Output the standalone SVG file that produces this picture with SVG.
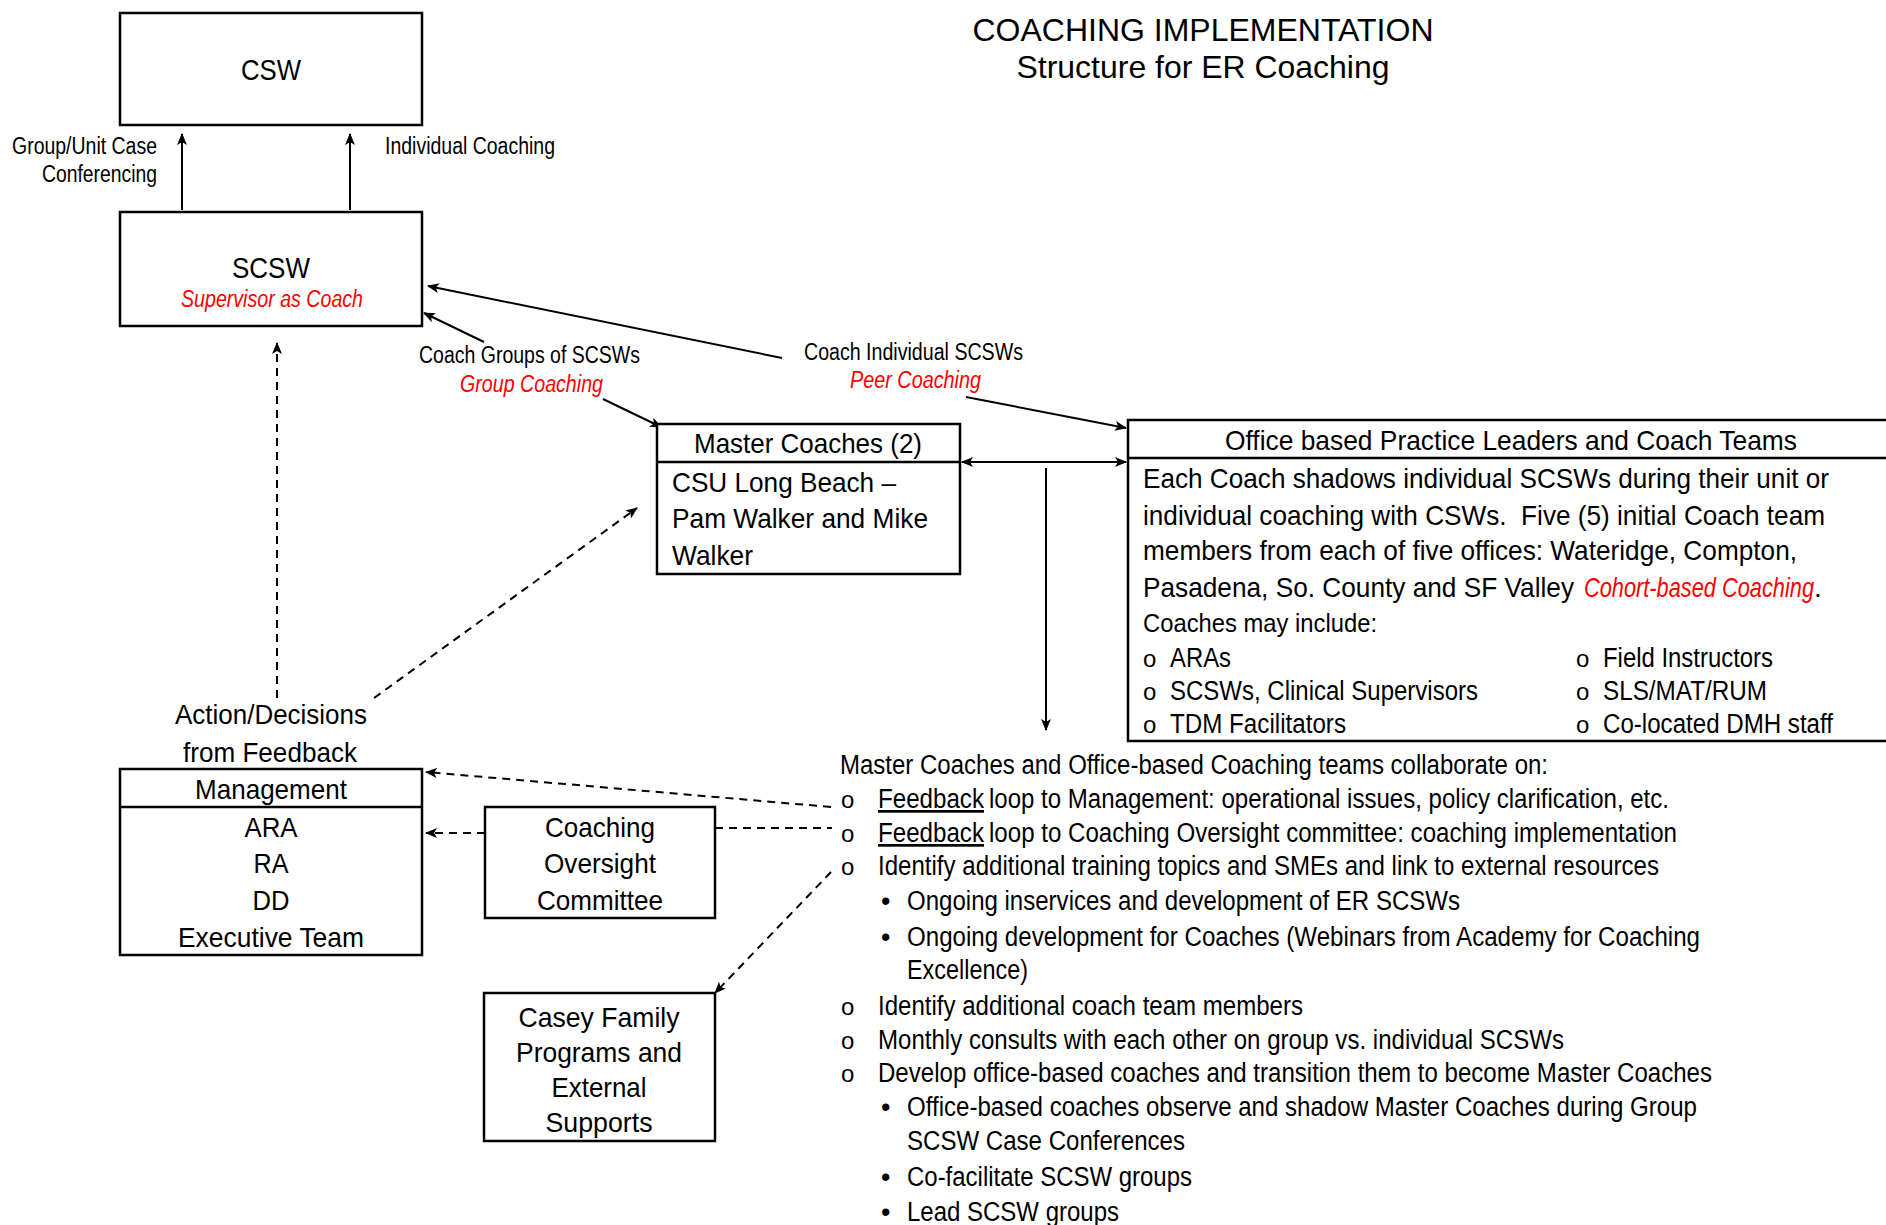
<svg xmlns="http://www.w3.org/2000/svg" width="1886" height="1225" viewBox="0 0 1886 1225">
<defs>
<style>
.bx{fill:#fff;stroke:#000;stroke-width:2.5}
.sep{stroke:#000;stroke-width:2.5}
.t{font-family:"Liberation Sans Narrow","Arial Narrow","Liberation Sans",Arial,sans-serif;fill:#000;font-size:28px}
.s{font-size:23px}
.r{fill:#f00;font-style:italic}
.c{text-anchor:middle}
.ttl{font-family:"Liberation Sans",Arial,sans-serif;font-size:31.5px;fill:#000;text-anchor:middle}
.ln{stroke:#000;stroke-width:2;fill:none}
.ds{stroke:#000;stroke-width:2;fill:none;stroke-dasharray:8 6}
.u{text-decoration:underline}
</style>
<marker id="ah" viewBox="0 0 12 10" refX="11" refY="5" markerWidth="12" markerHeight="10" markerUnits="userSpaceOnUse" orient="auto-start-reverse"><path d="M0,0 L12,5 L0,10 L3,5 z" fill="#000"/></marker>
</defs>
<rect width="1886" height="1225" fill="#fff"/>

<g id="title">
<text class="ttl" x="1203" y="41" textLength="461" lengthAdjust="spacingAndGlyphs">COACHING IMPLEMENTATION</text>
<text class="ttl" x="1203" y="78" textLength="373" lengthAdjust="spacingAndGlyphs">Structure for ER Coaching</text>
</g>

<g id="connectors">
<line class="ln" x1="182" y1="210" x2="182" y2="134" marker-end="url(#ah)"/>
<line class="ln" x1="350" y1="210" x2="350" y2="134" marker-end="url(#ah)"/>
<line class="ln" x1="782" y1="358" x2="428" y2="286" marker-end="url(#ah)"/>
<line class="ln" x1="484" y1="342" x2="424" y2="313" marker-end="url(#ah)"/>
<line class="ln" x1="603" y1="399" x2="661" y2="427" marker-end="url(#ah)"/>
<line class="ln" x1="966" y1="397" x2="1126" y2="428" marker-end="url(#ah)"/>
<line class="ln" x1="962" y1="462" x2="1126" y2="462" marker-start="url(#ah)" marker-end="url(#ah)"/>
<line class="ln" x1="1046" y1="468" x2="1046" y2="730" marker-end="url(#ah)"/>
<line class="ds" x1="277" y1="698" x2="277" y2="343" marker-end="url(#ah)"/>
<line class="ds" x1="374" y1="698" x2="637" y2="508" marker-end="url(#ah)"/>
<line class="ds" x1="831" y1="807" x2="426" y2="772" marker-end="url(#ah)"/>
<line class="ds" x1="485" y1="833" x2="426" y2="833" marker-end="url(#ah)"/>
<line class="ds" x1="715" y1="828" x2="832" y2="828"/>
<line class="ds" x1="831" y1="872" x2="715" y2="993" marker-end="url(#ah)"/>
</g>

<g id="connector-labels">
<text class="t s" x="157" y="154" text-anchor="end" textLength="145" lengthAdjust="spacingAndGlyphs">Group/Unit Case</text>
<text class="t s" x="157" y="182" text-anchor="end" textLength="115" lengthAdjust="spacingAndGlyphs">Conferencing</text>
<text class="t s" x="385" y="154" textLength="170" lengthAdjust="spacingAndGlyphs">Individual Coaching</text>
<text class="t s" x="419" y="363" textLength="221" lengthAdjust="spacingAndGlyphs">Coach Groups of SCSWs</text>
<text class="t s r" x="460" y="392" textLength="143" lengthAdjust="spacingAndGlyphs">Group Coaching</text>
<text class="t s" x="804" y="360" textLength="219" lengthAdjust="spacingAndGlyphs">Coach Individual SCSWs</text>
<text class="t s r" x="850" y="388" textLength="131" lengthAdjust="spacingAndGlyphs">Peer Coaching</text>
<text class="t" x="175" y="724" textLength="192" lengthAdjust="spacingAndGlyphs">Action/Decisions</text>
<text class="t" x="183" y="762" textLength="174" lengthAdjust="spacingAndGlyphs">from Feedback</text>
</g>

<g id="csw">
<rect class="bx" x="120" y="13" width="302" height="112"/>
<text class="t c" x="271" y="80" textLength="60" lengthAdjust="spacingAndGlyphs" style="font-size:30px">CSW</text>
</g>

<g id="scsw">
<rect class="bx" x="120" y="212" width="302" height="114"/>
<text class="t c" x="271" y="278" textLength="78" lengthAdjust="spacingAndGlyphs" style="font-size:30px">SCSW</text>
<text class="t s r" x="181" y="307" textLength="182" lengthAdjust="spacingAndGlyphs">Supervisor as Coach</text>
</g>

<g id="master-coaches">
<rect class="bx" x="657" y="424" width="303" height="150"/>
<line class="sep" x1="657" y1="462" x2="960" y2="462"/>
<text class="t" x="694" y="453" textLength="228" lengthAdjust="spacingAndGlyphs">Master Coaches (2)</text>
<text class="t" x="672" y="492" textLength="224" lengthAdjust="spacingAndGlyphs">CSU Long Beach –</text>
<text class="t" x="672" y="528" textLength="256" lengthAdjust="spacingAndGlyphs">Pam Walker and Mike</text>
<text class="t" x="672" y="565" textLength="81" lengthAdjust="spacingAndGlyphs">Walker</text>
</g>

<g id="office-teams">
<rect class="bx" x="1128" y="420" width="780" height="321"/>
<line class="sep" x1="1128" y1="458" x2="1908" y2="458"/>
<text class="t" x="1225" y="450" textLength="572" lengthAdjust="spacingAndGlyphs">Office based Practice Leaders and Coach Teams</text>
<text class="t" x="1143" y="488" textLength="686" lengthAdjust="spacingAndGlyphs">Each Coach shadows individual SCSWs during their unit or</text>
<text class="t" x="1143" y="525" textLength="682" lengthAdjust="spacingAndGlyphs" xml:space="preserve">individual coaching with CSWs.  Five (5) initial Coach team</text>
<text class="t" x="1143" y="560" textLength="654" lengthAdjust="spacingAndGlyphs">members from each of five offices: Wateridge, Compton,</text>
<text class="t" x="1143" y="597" textLength="431" lengthAdjust="spacingAndGlyphs">Pasadena, So. County and SF Valley</text>
<text class="t r" x="1584" y="597" textLength="230" lengthAdjust="spacingAndGlyphs">Cohort-based Coaching</text>
<text class="t" x="1814" y="597">.</text>
<text class="t" x="1143" y="632" textLength="234" lengthAdjust="spacingAndGlyphs" style="font-size:26px">Coaches may include:</text>
<text class="t" x="1143" y="667" style="font-size:24px">o</text>
<text class="t" x="1170" y="667" textLength="61" lengthAdjust="spacingAndGlyphs" style="font-size:27px">ARAs</text>
<text class="t" x="1143" y="700" style="font-size:24px">o</text>
<text class="t" x="1170" y="700" textLength="308" lengthAdjust="spacingAndGlyphs" style="font-size:27px">SCSWs, Clinical Supervisors</text>
<text class="t" x="1143" y="733" style="font-size:24px">o</text>
<text class="t" x="1170" y="733" textLength="176" lengthAdjust="spacingAndGlyphs" style="font-size:27px">TDM Facilitators</text>
<text class="t" x="1576" y="667" style="font-size:24px">o</text>
<text class="t" x="1603" y="667" textLength="170" lengthAdjust="spacingAndGlyphs" style="font-size:27px">Field Instructors</text>
<text class="t" x="1576" y="700" style="font-size:24px">o</text>
<text class="t" x="1603" y="700" textLength="164" lengthAdjust="spacingAndGlyphs" style="font-size:27px">SLS/MAT/RUM</text>
<text class="t" x="1576" y="733" style="font-size:24px">o</text>
<text class="t" x="1603" y="733" textLength="230" lengthAdjust="spacingAndGlyphs" style="font-size:27px">Co-located DMH staff</text>
</g>

<g id="management">
<rect class="bx" x="120" y="769" width="302" height="186"/>
<line class="sep" x1="120" y1="807" x2="422" y2="807"/>
<text class="t c" x="271" y="799" textLength="152" lengthAdjust="spacingAndGlyphs">Management</text>
<text class="t c" x="271" y="837" textLength="53" lengthAdjust="spacingAndGlyphs">ARA</text>
<text class="t c" x="271" y="873" textLength="35" lengthAdjust="spacingAndGlyphs">RA</text>
<text class="t c" x="271" y="910" textLength="37" lengthAdjust="spacingAndGlyphs">DD</text>
<text class="t c" x="271" y="947" textLength="186" lengthAdjust="spacingAndGlyphs">Executive Team</text>
</g>

<g id="coaching-oversight">
<rect class="bx" x="485" y="807" width="230" height="111"/>
<text class="t c" x="600" y="837" textLength="110" lengthAdjust="spacingAndGlyphs">Coaching</text>
<text class="t c" x="600" y="873" textLength="112" lengthAdjust="spacingAndGlyphs">Oversight</text>
<text class="t c" x="600" y="910" textLength="126" lengthAdjust="spacingAndGlyphs">Committee</text>
</g>

<g id="casey">
<rect class="bx" x="484" y="993" width="231" height="148"/>
<text class="t c" x="599" y="1027" textLength="161" lengthAdjust="spacingAndGlyphs">Casey Family</text>
<text class="t c" x="599" y="1062" textLength="166" lengthAdjust="spacingAndGlyphs">Programs and</text>
<text class="t c" x="599" y="1097" textLength="95" lengthAdjust="spacingAndGlyphs">External</text>
<text class="t c" x="599" y="1132" textLength="107" lengthAdjust="spacingAndGlyphs">Supports</text>
</g>

<g id="collaboration">
<text class="t" x="840" y="774" textLength="708" lengthAdjust="spacingAndGlyphs" style="font-size:27px">Master Coaches and Office-based Coaching teams collaborate on:</text>
<text class="t" x="841" y="808" style="font-size:24px">o</text>
<text class="t u" x="878" y="808" textLength="106" lengthAdjust="spacingAndGlyphs" style="font-size:27px">Feedback</text>
<text class="t" x="989" y="808" textLength="680" lengthAdjust="spacingAndGlyphs" style="font-size:27px">loop to Management: operational issues, policy clarification, etc.</text>
<text class="t" x="841" y="842" style="font-size:24px">o</text>
<text class="t u" x="878" y="842" textLength="106" lengthAdjust="spacingAndGlyphs" style="font-size:27px">Feedback</text>
<text class="t" x="989" y="842" textLength="688" lengthAdjust="spacingAndGlyphs" style="font-size:27px">loop to Coaching Oversight committee: coaching implementation</text>
<text class="t" x="841" y="875" style="font-size:24px">o</text>
<text class="t" x="878" y="875" textLength="781" lengthAdjust="spacingAndGlyphs" style="font-size:27px">Identify additional training topics and SMEs and link to external resources</text>
<text class="t" x="881" y="910" style="font-size:27px">•</text>
<text class="t" x="907" y="910" textLength="553" lengthAdjust="spacingAndGlyphs" style="font-size:27px">Ongoing inservices and development of ER SCSWs</text>
<text class="t" x="881" y="946" style="font-size:27px">•</text>
<text class="t" x="907" y="946" textLength="793" lengthAdjust="spacingAndGlyphs" style="font-size:27px">Ongoing development for Coaches (Webinars from Academy for Coaching</text>
<text class="t" x="907" y="979" textLength="121" lengthAdjust="spacingAndGlyphs" style="font-size:27px">Excellence)</text>
<text class="t" x="841" y="1015" style="font-size:24px">o</text>
<text class="t" x="878" y="1015" textLength="425" lengthAdjust="spacingAndGlyphs" style="font-size:27px">Identify additional coach team members</text>
<text class="t" x="841" y="1049" style="font-size:24px">o</text>
<text class="t" x="878" y="1049" textLength="686" lengthAdjust="spacingAndGlyphs" style="font-size:27px">Monthly consults with each other on group vs. individual SCSWs</text>
<text class="t" x="841" y="1082" style="font-size:24px">o</text>
<text class="t" x="878" y="1082" textLength="834" lengthAdjust="spacingAndGlyphs" style="font-size:27px">Develop office-based coaches and transition them to become Master Coaches</text>
<text class="t" x="881" y="1116" style="font-size:27px">•</text>
<text class="t" x="907" y="1116" textLength="790" lengthAdjust="spacingAndGlyphs" style="font-size:27px">Office-based coaches observe and shadow Master Coaches during Group</text>
<text class="t" x="907" y="1150" textLength="278" lengthAdjust="spacingAndGlyphs" style="font-size:27px">SCSW Case Conferences</text>
<text class="t" x="881" y="1186" style="font-size:27px">•</text>
<text class="t" x="907" y="1186" textLength="285" lengthAdjust="spacingAndGlyphs" style="font-size:27px">Co-facilitate SCSW groups</text>
<text class="t" x="881" y="1221" style="font-size:27px">•</text>
<text class="t" x="907" y="1221" textLength="212" lengthAdjust="spacingAndGlyphs" style="font-size:27px">Lead SCSW groups</text>
</g>
</svg>
